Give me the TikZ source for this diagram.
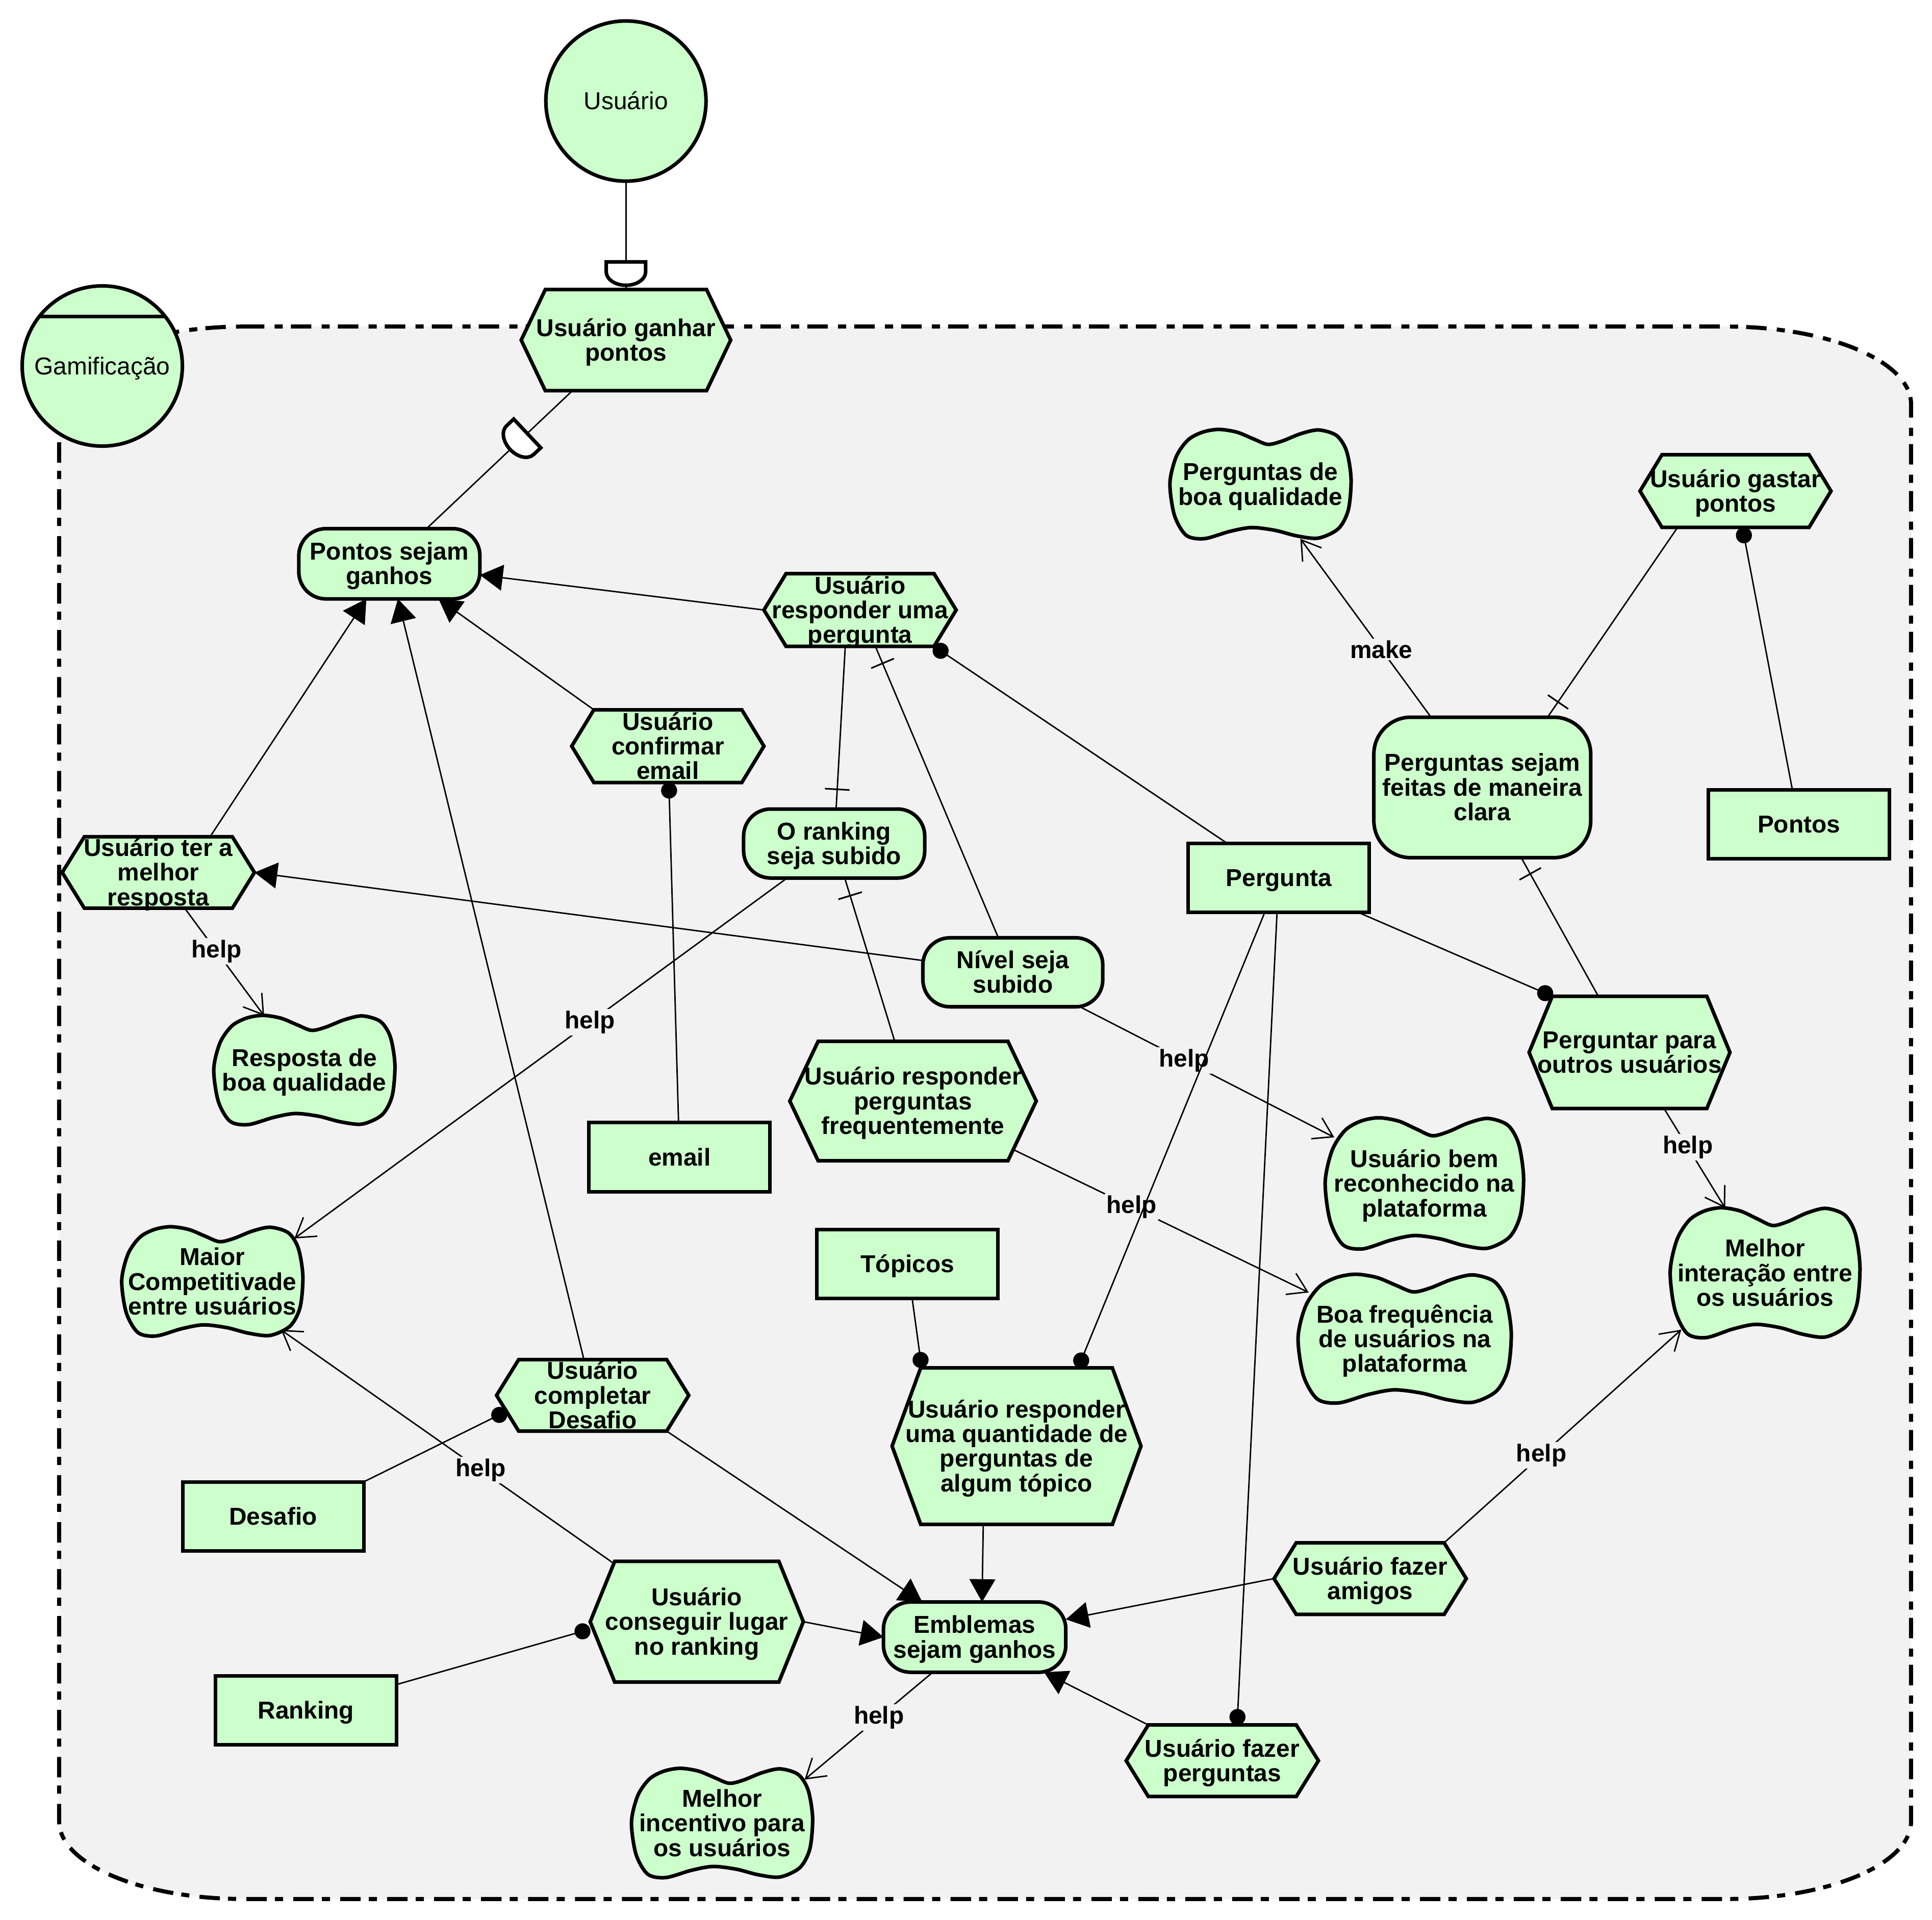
\documentclass[tikz,border=0pt]{standalone}
\usepackage{fontspec}
\setmainfont{Liberation Sans}
\usetikzlibrary{arrows.meta,decorations.markings,calc}

\definecolor{elemfill}{HTML}{CCFFCC}
\definecolor{boundfill}{HTML}{F2F2F2}

% line strut: Arial-like ascent and descent at 19.8pt
\newcommand\istarstrut{\rule[-4.2pt]{0pt}{22.1pt}}

\makeatletter
% ---------- shared border computation for the custom iStar shapes ----------
\def\istar@indent{0.115}
\def\istar@borderprep{%
  \edef\istar@dx{\the\pgf@x}\edef\istar@dy{\the\pgf@y}%
  \southwest \pgf@xa=\pgf@x \pgf@ya=\pgf@y
  \northeast \pgf@xb=\pgf@x \pgf@yb=\pgf@y
  \edef\istar@a{\the\dimexpr(\pgf@xb-\pgf@xa)/2\relax}%
  \edef\istar@b{\the\dimexpr(\pgf@yb-\pgf@ya)/2\relax}%
  \edef\istar@cx{\the\dimexpr(\pgf@xb+\pgf@xa)/2\relax}%
  \edef\istar@cy{\the\dimexpr(\pgf@yb+\pgf@ya)/2\relax}%
  \pgfmathsetmacro\istar@m{max(abs(\istar@dx),abs(\istar@dy),0.001)}%
  \pgfmathsetmacro\istar@nx{\istar@dx/\istar@m}%
  \pgfmathsetmacro\istar@ny{\istar@dy/\istar@m}%
  \pgfmathsetmacro\istar@len{max(veclen(\istar@nx,\istar@ny),0.001)}%
  \pgfmathsetmacro\istar@ux{abs(\istar@nx)/\istar@len}%
  \pgfmathsetmacro\istar@uy{abs(\istar@ny)/\istar@len}%
}
\def\istar@borderfinish{%
  \pgfmathsetmacro\istar@rx{\istar@t*\istar@nx/\istar@len}%
  \pgfmathsetmacro\istar@ry{\istar@t*\istar@ny/\istar@len}%
  \pgf@x=\istar@cx\relax\advance\pgf@x by \istar@rx pt\relax
  \pgf@y=\istar@cy\relax\advance\pgf@y by \istar@ry pt\relax
}
% ---------- task: hexagon with pointed left and right sides ----------
\pgfdeclareshape{istartask}{%
  \inheritsavedanchors[from=rectangle]%
  \inheritanchor[from=rectangle]{center}%
  \inheritanchor[from=rectangle]{text}%
  \inheritanchor[from=rectangle]{base}%
  \inheritanchor[from=rectangle]{mid}%
  \inheritanchor[from=rectangle]{north}%
  \inheritanchor[from=rectangle]{south}%
  \inheritanchor[from=rectangle]{east}%
  \inheritanchor[from=rectangle]{west}%
  \inheritanchor[from=rectangle]{north east}%
  \inheritanchor[from=rectangle]{north west}%
  \inheritanchor[from=rectangle]{south east}%
  \inheritanchor[from=rectangle]{south west}%
  \anchorborder{%
    \istar@borderprep
    \pgfmathsetmacro\istar@t{min(\istar@b/max(\istar@uy,0.01),\istar@a/max(\istar@ux+2*\istar@indent*\istar@a/\istar@b*\istar@uy,0.01))}%
    \istar@borderfinish
  }%
  \backgroundpath{%
    \southwest \pgf@xa=\pgf@x \pgf@ya=\pgf@y
    \northeast \pgf@xb=\pgf@x \pgf@yb=\pgf@y
    \pgf@xc=\pgf@xb \advance\pgf@xc by -\pgf@xa
    \pgf@xc=\istar@indent\pgf@xc
    \edef\istar@l{\the\pgf@xa}\edef\istar@r{\the\pgf@xb}%
    \edef\istar@bt{\the\pgf@ya}\edef\istar@tp{\the\pgf@yb}%
    \edef\istar@li{\the\dimexpr\pgf@xa+\pgf@xc\relax}%
    \edef\istar@ri{\the\dimexpr\pgf@xb-\pgf@xc\relax}%
    \edef\istar@m{\the\dimexpr(\pgf@ya+\pgf@yb)/2\relax}%
    \pgfpathmoveto{\pgfqpoint{\istar@l}{\istar@m}}%
    \pgfpathlineto{\pgfqpoint{\istar@li}{\istar@tp}}%
    \pgfpathlineto{\pgfqpoint{\istar@ri}{\istar@tp}}%
    \pgfpathlineto{\pgfqpoint{\istar@r}{\istar@m}}%
    \pgfpathlineto{\pgfqpoint{\istar@ri}{\istar@bt}}%
    \pgfpathlineto{\pgfqpoint{\istar@li}{\istar@bt}}%
    \pgfpathclose
  }%
}
% ---------- softgoal: wavy cloud-like outline ----------
\def\istar@sgpt#1#2{\pgfplotstreampoint{\pgfpoint{\istar@L+#1*\istar@W}{\istar@T-#2*\istar@H}}}
\pgfdeclareshape{istarsoft}{%
  \inheritsavedanchors[from=rectangle]%
  \inheritanchor[from=rectangle]{center}%
  \inheritanchor[from=rectangle]{text}%
  \inheritanchor[from=rectangle]{base}%
  \inheritanchor[from=rectangle]{mid}%
  \inheritanchor[from=rectangle]{north}%
  \inheritanchor[from=rectangle]{south}%
  \inheritanchor[from=rectangle]{east}%
  \inheritanchor[from=rectangle]{west}%
  \inheritanchor[from=rectangle]{north east}%
  \inheritanchor[from=rectangle]{north west}%
  \inheritanchor[from=rectangle]{south east}%
  \inheritanchor[from=rectangle]{south west}%
  \anchorborder{%
    \istar@borderprep
    \pgfmathsetmacro\istar@s{(\istar@ux+0.001)^3.5+(\istar@uy*\istar@a/\istar@b+0.001)^3.5}%
    \pgfmathsetmacro\istar@t{\istar@a/(\istar@s^0.285714)}%
    \istar@borderfinish
  }%
  \backgroundpath{%
    \southwest \pgf@xa=\pgf@x \pgf@ya=\pgf@y
    \northeast \pgf@xb=\pgf@x \pgf@yb=\pgf@y
    \edef\istar@L{\the\pgf@xa}\edef\istar@T{\the\pgf@yb}%
    \edef\istar@W{\the\dimexpr\pgf@xb-\pgf@xa\relax}%
    \edef\istar@H{\the\dimexpr\pgf@yb-\pgf@ya\relax}%
    \pgfsetplottension{0.5}%
    \pgfplothandlerclosedcurve
    \pgfplotstreamstart
    \istar@sgpt{0}{0.49}\istar@sgpt{0.035}{0.25}\istar@sgpt{0.10}{0.10}%
    \istar@sgpt{0.18}{0.03}\istar@sgpt{0.27}{0.005}\istar@sgpt{0.37}{0.03}%
    \istar@sgpt{0.46}{0.09}\istar@sgpt{0.54}{0.14}\istar@sgpt{0.62}{0.11}%
    \istar@sgpt{0.72}{0.045}\istar@sgpt{0.82}{0.01}\istar@sgpt{0.92}{0.06}%
    \istar@sgpt{0.975}{0.2}\istar@sgpt{1.0}{0.45}\istar@sgpt{0.985}{0.73}%
    \istar@sgpt{0.93}{0.9}\istar@sgpt{0.82}{0.985}\istar@sgpt{0.70}{0.965}%
    \istar@sgpt{0.58}{0.915}\istar@sgpt{0.45}{0.89}\istar@sgpt{0.33}{0.925}%
    \istar@sgpt{0.19}{0.99}\istar@sgpt{0.09}{0.96}\istar@sgpt{0.025}{0.78}%
    \pgfplotstreamend
  }%
}
\makeatother

\tikzset{
  depd/.pic={
    \draw[line width=2.9pt,fill=white] (-16,0) -- (16,0) -- (16,8)
      arc[start angle=0,end angle=180,x radius=16,y radius=11] -- cycle;
  }
}
% first line of a multi-line label carries the full line strut
\newcommand\fl{\istarstrut}

\begin{document}
\begin{tikzpicture}[x=1pt,y=-1pt,
  elem/.style={draw=black, line width=2.9pt, fill=elemfill, inner xsep=0pt, inner ysep=-6pt,
    outer sep=0pt, align=center, font={\fontsize{19.8}{20}\selectfont\bfseries},
    execute at begin node=\istarstrut, execute at end node=\istarstrut},
  task/.style={elem, shape=istartask},
  goal/.style={elem, shape=rectangle, rounded corners=22pt},
  resource/.style={elem, shape=rectangle},
  softgoal/.style={elem, shape=istarsoft},
  actor/.style={elem, shape=circle, inner sep=0pt, minimum size=130pt,
    font={\fontsize{19.8}{20}\selectfont}},
  box/.style 2 args={minimum width=#1pt, minimum height=#2pt},
  link/.style={draw=black, line width=1.15pt},
  meansend/.style={link, -{Triangle[length=18.5pt,width=21pt]}},
  contrib/.style={link, -{Straight Barb[length=15pt,width=19pt]}},
  neededby/.style={link, -{Circle[length=13pt]}},
  tickstart/.style={link, postaction={decorate, decoration={markings,
    mark=at position 15pt with {\draw[line width=1.3pt] (0pt,-10pt) -- (0pt,10pt);}}}},
  tickend/.style={link, postaction={decorate, decoration={markings,
    mark=at position -16pt with {\draw[line width=1.3pt] (0pt,-10pt) -- (0pt,10pt);}}}},
  lbl/.style={fill=boundfill, inner sep=1.5pt, font={\fontsize{19.8}{20}\selectfont\bfseries}}
]
\useasboundingbox (0,0) rectangle (1568,1558);
\fill[white] (0,0) rectangle (1568,1558);

% actor boundary
\path[draw=black, fill=boundfill, line width=3.3pt,
      dash pattern=on 16.6pt off 8.3pt on 6.6pt off 6.6pt]
  (198,265) -- (1401,265) arc[start angle=270,end angle=360,x radius=150,y radius=63]
  -- (1551,1478) arc[start angle=0,end angle=90,x radius=150,y radius=63]
  -- (198,1541) arc[start angle=90,end angle=180,x radius=150,y radius=63]
  -- (48,328) arc[start angle=180,end angle=270,x radius=150,y radius=63] -- cycle;

% actors
\node[actor] (usuario) at (508,82) {Usuário};
\node[actor, path picture={\draw[line width=2.9pt]
    ([yshift=-25pt]path picture bounding box.north west) --
    ([yshift=-25pt]path picture bounding box.north east);}] (gamif) at (83,297) {Gamificação};

% tasks
\node[task, box={170}{82}] (ugp) at (508,276) {\fl Usuário ganhar\\pontos};
\node[task, box={156}{59}] (urp) at (698,495) {\fl Usuário\\responder uma\\pergunta};
\node[task, box={156}{59}] (uce) at (542,605.5) {\fl Usuário\\confirmar\\email};
\node[task, box={156}{58}] (utm) at (128.5,708) {\fl Usuário ter a\\melhor\\resposta};
\node[task, box={200}{97}] (urf) at (741,893.5) {\fl Usuário responder\\perguntas\\frequentemente};
\node[task, box={155}{59}] (ugpt) at (1408.5,398.5) {\fl Usuário gastar\\pontos};
\node[task, box={163}{91}] (ppo) at (1322.5,854) {\fl Perguntar para\\outros usuários};
\node[task, box={156}{58}] (ucd) at (481,1132.3) {\fl Usuário\\completar\\Desafio};
\node[task, box={202}{127}] (urq) at (825,1173.5) {\fl Usuário responder\\uma quantidade de\\perguntas de\\algum tópico};
\node[task, box={173}{98}] (ucl) at (565.5,1316) {\fl Usuário\\conseguir lugar\\no ranking};
\node[task, box={156}{58}] (ufa) at (1112,1281) {\fl Usuário fazer\\amigos};
\node[task, box={156}{58}] (ufp) at (992,1428.8) {\fl Usuário fazer\\perguntas};

% goals
\node[goal, box={147}{57}] (psg) at (316,457.5) {\fl Pontos sejam\\ganhos};
\node[goal, box={147}{56}] (ors) at (677,684.5) {\fl O ranking\\seja subido};
\node[goal, box={146}{56}] (nss) at (822,789) {\fl Nível seja\\subido};
\node[goal, box={176}{114}, rounded corners=30pt] (psf) at (1203,639) {\fl Perguntas sejam\\feitas de maneira\\clara};
\node[goal, box={148}{57}] (esg) at (791,1328.5) {\fl Emblemas\\sejam ganhos};

% resources
\node[resource, box={147}{56}] (pergunta) at (1037.8,712.5) {Pergunta};
\node[resource, box={147}{56}] (pontos) at (1460,669) {Pontos};
\node[resource, box={147}{56}] (email) at (551.5,939) {email};
\node[resource, box={147}{56}] (topicos) at (736.5,1025.8) {Tópicos};
\node[resource, box={147}{56}] (desafio) at (221.7,1230.5) {Desafio};
\node[resource, box={147}{56}] (ranking) at (248.3,1388) {Ranking};

% softgoals
\node[softgoal, box={147}{90}] (pbq) at (1023,393) {\fl Perguntas de\\boa qualidade};
\node[softgoal, box={147}{90}] (rbq) at (247,868.5) {\fl Resposta de\\boa qualidade};
\node[softgoal, box={147}{90}] (mce) at (172.3,1040) {\fl Maior\\Competitivade\\entre usuários};
\node[softgoal, box={161}{108}] (ubr) at (1156,960.5) {\fl Usuário bem\\reconhecido na\\plataforma};
\node[softgoal, box={173}{106}] (bfu) at (1140,1086.5) {\fl Boa frequência\\de usuários na\\plataforma};
\node[softgoal, box={154}{107}] (mie) at (1432.5,1033) {\fl Melhor\\interação entre\\os usuários};
\node[softgoal, box={147}{90}] (mip) at (586,1479.5) {\fl Melhor\\incentivo para\\os usuários};

% dependency links
\draw[link] (usuario) -- (ugp);
\draw[link] (ugp) -- (psg) coordinate[pos=0.31] (d2);
\pic at ([yshift=22.5pt]ugp.north) {depd};
\pic[rotate=-46.7] at (d2) {depd};

% means-end links
\draw[meansend] (urp.west) -- (psg);
\draw[meansend] ([xshift=18pt]uce.north west) -- (psg);
\draw[meansend] ([xshift=42pt]utm.north) -- (psg);
\draw[meansend] (ucd) -- (psg);
\draw[meansend] (nss) -- (utm.east);
\draw[meansend] ([xshift=-18pt]ucd.south east) -- (esg);
\draw[meansend] ([xshift=-27pt]urq.south) -- ([xshift=6pt]esg.north);
\draw[meansend] (ucl.east) -- (esg.west);
\draw[meansend] (ufa.west) -- (esg);
\draw[meansend] ([xshift=18pt]ufp.north west) -- (esg);

% refinement links
\draw[tickend] ([xshift=-12pt]urp.south) -- (ors);
\draw[tickstart] (urp) -- (nss);
\draw[tickstart] (ors) -- (urf);
\draw[tickstart] ([xshift=53pt]psf.north) -- ([xshift=-47pt]ugpt.south);
\draw[tickstart] (psf) -- (ppo);

% contribution links
\draw[contrib] (utm) -- node[lbl,pos=0.4]{help} (rbq);
\draw[contrib] (ors) -- node[lbl,pos=0.4]{help} ([shift={(66.6,-35)}]mce.center);
\draw[contrib] (nss) -- node[lbl,pos=0.41]{help} (ubr);
\draw[contrib] (urf) -- node[lbl,pos=0.4]{help} (bfu);
\draw[contrib] (ppo) -- node[lbl,pos=0.39]{help} (mie);
\draw[contrib] (ucl) -- node[lbl,pos=0.4]{help} (mce);
\draw[contrib] ([xshift=-18pt]ufa.north east) -- node[lbl,pos=0.41]{help} ([shift={(-68,46)}]mie.center);
\draw[contrib] (esg) -- node[lbl,pos=0.42]{help} ([shift={(67,-35.4)}]mip.center);
\draw[contrib] (psf) -- node[lbl,pos=0.38]{make} (pbq);

% needed-by links
\draw[neededby] (pergunta) -- ([xshift=-18pt]urp.south east);
\draw[neededby] (email) -- (uce);
\draw[neededby] (pontos) -- (ugpt);
\draw[neededby] (pergunta) -- ([xshift=19pt]ppo.north west);
\draw[neededby] (pergunta) -- ([xshift=50pt]urq.north);
\draw[neededby] (pergunta) -- ([xshift=12pt]ufp.north);
\draw[neededby] (topicos) -- ([xshift=24pt]urq.north west);
\draw[neededby] (desafio.north east) -- ([xshift=8pt,yshift=-13pt]ucd.west);
\draw[neededby] (ranking) -- ([yshift=-6pt]ucl.west);
\end{tikzpicture}
\end{document}
